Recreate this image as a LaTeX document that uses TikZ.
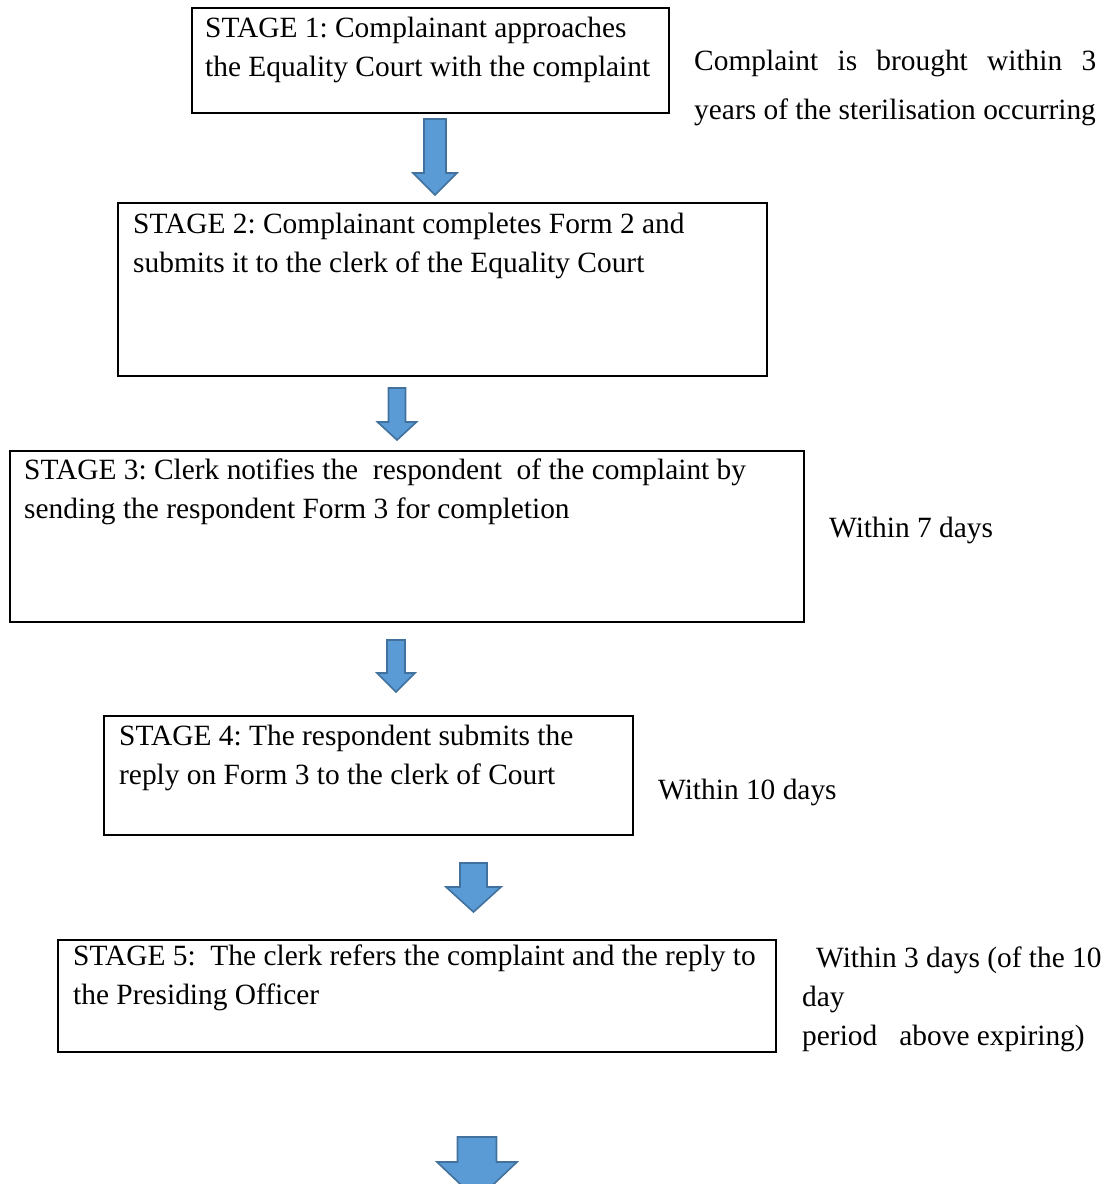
\documentclass[tikz,border=0pt]{standalone}
\usepackage{fontspec}
\setmainfont{Liberation Serif}
\frenchspacing
\definecolor{arrfill}{RGB}{91,155,213}
\definecolor{arrline}{RGB}{65,113,156}
\newcommand{\blkarrow}[7]{%
  \draw[blockarrow] (#1-#3,#2) coordinate (#7) -- (#1+#3,#2) -- (#1+#3,#5) -- (#1+#4,#5) -- (#1,#6) -- (#1-#4,#5) -- (#1-#3,#5) -- cycle;}
\begin{document}
\begin{tikzpicture}[x=1pt,y=-1pt,
  stagebox/.style={draw=black,line width=1.6pt},
  txt/.style={anchor=base west,inner sep=0pt,font=\fontsize{29.4}{38.5}\selectfont},
  blockarrow/.style={fill=arrfill,draw=arrline,line width=1.6pt,line join=miter}]
\useasboundingbox (0,0) rectangle (1111,1184);
\clip (0,0) rectangle (1111,1184);
% boxes
\draw[stagebox] (192,8) rectangle (669,113);
\draw[stagebox] (118,203) rectangle (767,376);
\draw[stagebox] (10,451) rectangle (804,622);
\draw[stagebox] (104,716) rectangle (633,835);
\draw[stagebox] (58,940) rectangle (776,1052);
% box texts
\node[txt] (s1a) at (205,37) {STAGE 1: Complainant approaches};
\node[txt] (s1b) at (205,76) {the Equality Court with the complaint};
\node[txt] (s2a) at (133,233) {STAGE 2: Complainant completes Form 2 and};
\node[txt] (s2b) at (133,272) {submits it to the clerk of the Equality Court};
\node[txt] (s3a) at (24,479) {STAGE 3: Clerk notifies the\ \ respondent\ \ of the complaint by};
\node[txt] (s3b) at (24,518) {sending the respondent Form 3 for completion};
\node[txt] (s4a) at (119,745) {STAGE 4: The respondent submits the};
\node[txt] (s4b) at (119,784) {reply on Form 3 to the clerk of Court};
\node[txt] (s5a) at (73,965) {STAGE 5:\ \ The clerk refers the complaint and the reply to};
\node[txt] (s5b) at (73,1004) {the Presiding Officer};
% side notes
\node[txt] (r1a) at (694,70) {\makebox[402pt][s]{Complaint is brought within 3}};
\node[txt] (r1b) at (694,119) {years of the sterilisation occurring};
\node[txt] (r3) at (829,537) {Within 7 days};
\node[txt] (r4) at (658,799) {Within 10 days};
\node[txt] (r5a) at (802,967) {\hspace*{14pt}Within 3 days (of the 10};
\node[txt] (r5b) at (802,1006) {day};
\node[txt] (r5c) at (802,1045) {period\ \ \ above expiring)};
% block arrows
\blkarrow{435}{119}{11}{22}{173}{195}{a1}
\blkarrow{397}{388}{8.5}{19.5}{422}{440}{a2}
\blkarrow{396}{640}{9}{19}{673}{692}{a3}
\blkarrow{473.5}{863}{13.5}{27.5}{887}{912}{a4}
\blkarrow{477}{1137}{19.5}{40}{1162}{1200}{a5}
\end{tikzpicture}
\end{document}
